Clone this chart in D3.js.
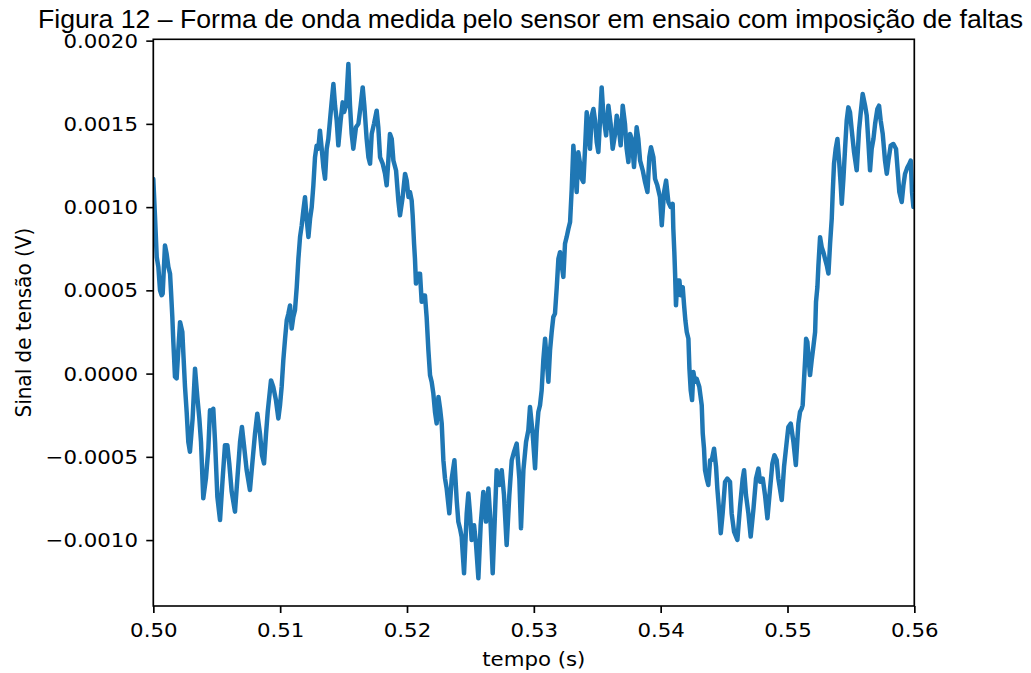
<!DOCTYPE html>
<html><head><meta charset="utf-8">
<script src="https://cdn.jsdelivr.net/npm/d3@7"></script>
<style>html,body{margin:0;padding:0;background:#fff;} svg{display:block;}</style>
</head><body>
<svg id="chart" width="1031" height="673"></svg>
<script>
const titleText = "Figura 12 – Forma de onda medida pelo sensor em ensaio com imposição de faltas";
const xLabel = "tempo (s)";
const yLabel = "Sinal de tensão (V)";
const xTicks = [0.50, 0.51, 0.52, 0.53, 0.54, 0.55, 0.56];
const yTicks = [-0.0010, -0.0005, 0.0000, 0.0005, 0.0010, 0.0015, 0.0020];

// tempo (s)
const time = [
0.50000,0.50013,0.50027,0.50040,0.50053,0.50066,0.50074,0.50092,0.50105,0.50119,0.50132,0.50140,0.50150,0.50158,0.50171,0.50184,0.50197,0.50211,0.50229,0.50237,0.50250,0.50263,0.50276,0.50289,0.50310,0.50329,0.50347,0.50363,0.50376,0.50394,0.50415,0.50434,0.50447,0.50460,0.50473,0.50487,0.50505,0.50526,0.50547,0.50565,0.50584,0.50599,0.50618,0.50644,0.50663,0.50684,0.50699,0.50715,0.50736,0.50762,0.50783,0.50802,0.50820,0.50841,0.50857,0.50873,0.50889,0.50902,0.50928,0.50946,0.50967,0.50986,0.50999,
0.51012,0.51025,0.51039,0.51052,0.51065,0.51078,0.51091,0.51104,0.51117,0.51131,0.51144,0.51157,0.51170,0.51183,0.51196,0.51209,0.51223,0.51236,0.51249,0.51262,0.51275,0.51288,0.51301,0.51314,0.51328,0.51341,0.51354,0.51367,0.51380,0.51393,0.51406,0.51420,0.51433,0.51446,0.51459,0.51477,0.51493,0.51504,0.51520,0.51538,0.51551,0.51564,0.51577,0.51598,0.51617,0.51635,0.51651,0.51664,0.51682,0.51696,0.51709,0.51722,0.51740,0.51761,0.51774,0.51788,0.51809,0.51827,0.51840,0.51853,0.51866,0.51880,0.51893,0.51914,0.51932,0.51945,0.51966,0.51985,0.51998,
0.52012,0.52024,0.52037,0.52045,0.52056,0.52063,0.52071,0.52090,0.52103,0.52116,0.52129,0.52142,0.52155,0.52169,0.52182,0.52195,0.52208,0.52221,0.52234,0.52248,0.52261,0.52274,0.52287,0.52300,0.52313,0.52334,0.52353,0.52374,0.52392,0.52405,0.52418,0.52431,0.52450,0.52471,0.52484,0.52497,0.52510,0.52529,0.52544,0.52563,0.52581,0.52602,0.52623,0.52642,0.52660,0.52676,0.52694,0.52707,0.52728,0.52747,0.52765,0.52786,0.52807,0.52826,0.52844,0.52865,0.52886,0.52899,0.52918,0.52939,0.52957,0.52970,0.52991,
0.53010,0.53023,0.53036,0.53049,0.53062,0.53075,0.53089,0.53102,0.53115,0.53128,0.53141,0.53154,0.53167,0.53181,0.53194,0.53207,0.53220,0.53233,0.53246,0.53259,0.53273,0.53286,0.53299,0.53312,0.53325,0.53338,0.53351,0.53365,0.53378,0.53391,0.53404,0.53417,0.53430,0.53443,0.53457,0.53470,0.53483,0.53496,0.53509,0.53522,0.53535,0.53549,0.53570,0.53588,0.53606,0.53622,0.53641,0.53654,0.53667,0.53685,0.53701,0.53719,0.53732,0.53746,0.53759,0.53772,0.53790,0.53811,0.53824,0.53838,0.53859,0.53877,0.53896,0.53911,0.53924,0.53943,0.53956,0.53974,0.53995,
0.54009,0.54027,0.54043,0.54061,0.54079,0.54095,0.54100,0.54108,0.54114,0.54121,0.54132,0.54148,0.54158,0.54174,0.54185,0.54195,0.54206,0.54219,0.54227,0.54237,0.54248,0.54258,0.54271,0.54284,0.54305,0.54324,0.54332,0.54342,0.54350,0.54363,0.54376,0.54390,0.54403,0.54421,0.54437,0.54447,0.54463,0.54474,0.54489,0.54508,0.54526,0.54547,0.54560,0.54579,0.54605,0.54626,0.54647,0.54658,0.54673,0.54692,0.54710,0.54731,0.54752,0.54771,0.54784,0.54805,0.54823,0.54842,0.54863,0.54881,0.54897,0.54915,0.54928,0.54955,0.54973,0.54994,
0.55007,0.55026,0.55047,0.55066,0.55086,0.55099,0.55112,0.55120,0.55131,0.55139,0.55147,0.55157,0.55165,0.55178,0.55191,0.55204,0.55218,0.55225,0.55236,0.55244,0.55257,0.55270,0.55283,0.55296,0.55310,0.55323,0.55336,0.55349,0.55357,0.55367,0.55380,0.55394,0.55407,0.55420,0.55428,0.55441,0.55454,0.55467,0.55480,0.55493,0.55507,0.55525,0.55546,0.55564,0.55578,0.55593,0.55612,0.55625,0.55638,0.55651,0.55664,0.55678,0.55691,0.55709,0.55722,0.55735,0.55751,0.55769,0.55783,0.55796,0.55814,0.55835,0.55856,0.55867,0.55882,0.55901,0.55914,0.55927,0.55946,0.55961,0.55972,0.55982,0.55993,0.56000
];

// sinal de tensão (V)
const signal = [
0.00117,0.00095,0.00070,0.00064,0.00050,0.00047,0.00048,0.00077,0.00072,0.00064,0.00060,0.00049,0.00034,0.00019,-0.00002,-0.00003,0.00014,0.00031,0.00025,0.00012,-0.00008,-0.00023,-0.00041,-0.00047,-0.00027,0.00003,-0.00014,-0.00027,-0.00041,-0.00075,-0.00063,-0.00045,-0.00022,-0.00025,-0.00021,-0.00041,-0.00074,-0.00088,-0.00063,-0.00043,-0.00043,-0.00054,-0.00071,-0.00083,-0.00063,-0.00041,-0.00032,-0.00043,-0.00058,-0.00070,-0.00052,-0.00036,-0.00024,-0.00036,-0.00049,-0.00054,-0.00036,-0.00023,-0.00004,-0.00008,-0.00016,-0.00027,-0.00019,
-0.00008,0.00008,0.00021,0.00032,0.00036,0.00041,0.00027,0.00034,0.00038,0.00052,0.00069,0.00082,0.00089,0.00098,0.00106,0.00093,0.00082,0.00093,0.00100,0.00113,0.00130,0.00137,0.00135,0.00146,0.00135,0.00124,0.00117,0.00135,0.00141,0.00152,0.00163,0.00174,0.00161,0.00152,0.00137,0.00152,0.00163,0.00157,0.00161,0.00186,0.00161,0.00144,0.00135,0.00148,0.00150,0.00161,0.00172,0.00161,0.00141,0.00130,0.00126,0.00144,0.00150,0.00158,0.00148,0.00130,0.00126,0.00120,0.00113,0.00128,0.00144,0.00141,0.00128,0.00122,0.00104,0.00095,0.00106,0.00120,0.00116,
0.00106,0.00109,0.00104,0.00095,0.00078,0.00069,0.00054,0.00060,0.00060,0.00043,0.00047,0.00047,0.00034,0.00014,-0.00001,-0.00005,-0.00012,-0.00023,-0.00030,-0.00014,-0.00021,-0.00030,-0.00052,-0.00063,-0.00069,-0.00084,-0.00063,-0.00052,-0.00076,-0.00089,-0.00093,-0.00098,-0.00120,-0.00084,-0.00072,-0.00084,-0.00100,-0.00091,-0.00102,-0.00123,-0.00091,-0.00071,-0.00089,-0.00069,-0.00091,-0.00120,-0.00084,-0.00058,-0.00067,-0.00058,-0.00073,-0.00103,-0.00073,-0.00052,-0.00047,-0.00042,-0.00063,-0.00093,-0.00058,-0.00041,-0.00034,-0.00020,-0.00036,
-0.00057,-0.00035,-0.00023,-0.00019,-0.00010,0.00008,0.00021,0.00008,-0.00005,0.00014,0.00025,0.00034,0.00036,0.00052,0.00069,0.00073,0.00065,0.00058,0.00078,0.00082,0.00087,0.00091,0.00111,0.00137,0.00122,0.00109,0.00133,0.00126,0.00117,0.00115,0.00135,0.00157,0.00146,0.00135,0.00155,0.00159,0.00152,0.00139,0.00133,0.00152,0.00172,0.00155,0.00143,0.00161,0.00150,0.00135,0.00144,0.00155,0.00150,0.00137,0.00161,0.00150,0.00135,0.00127,0.00144,0.00141,0.00124,0.00148,0.00141,0.00128,0.00122,0.00115,0.00109,0.00130,0.00136,0.00130,0.00117,0.00113,0.00106,
0.00089,0.00109,0.00116,0.00103,0.00100,0.00102,0.00087,0.00073,0.00060,0.00041,0.00056,0.00056,0.00047,0.00052,0.00041,0.00032,0.00025,0.00021,0.00003,-0.00010,-0.00016,0.00001,-0.00005,-0.00003,-0.00008,-0.00019,-0.00036,-0.00045,-0.00058,-0.00063,-0.00067,-0.00052,-0.00052,-0.00045,-0.00056,-0.00069,-0.00084,-0.00096,-0.00084,-0.00065,-0.00063,-0.00065,-0.00084,-0.00095,-0.00100,-0.00080,-0.00063,-0.00058,-0.00073,-0.00084,-0.00098,-0.00082,-0.00063,-0.00057,-0.00065,-0.00063,-0.00073,-0.00087,-0.00069,-0.00054,-0.00049,-0.00052,-0.00063,-0.00076,-0.00056,-0.00041,
-0.00032,-0.00030,-0.00041,-0.00055,-0.00030,-0.00023,-0.00021,-0.00019,-0.00003,0.00008,0.00021,0.00019,0.00010,-0.00001,0.00008,0.00016,0.00025,0.00043,0.00052,0.00065,0.00082,0.00076,0.00073,0.00069,0.00065,0.00060,0.00078,0.00093,0.00109,0.00126,0.00135,0.00141,0.00128,0.00113,0.00102,0.00117,0.00135,0.00152,0.00160,0.00157,0.00146,0.00133,0.00122,0.00146,0.00157,0.00168,0.00161,0.00155,0.00139,0.00122,0.00135,0.00141,0.00150,0.00159,0.00161,0.00152,0.00144,0.00128,0.00120,0.00128,0.00137,0.00138,0.00135,0.00124,0.00109,0.00103,0.00113,0.00120,0.00124,0.00126,0.00128,0.00109,0.00100,0.00100
];

const SX = 1.065;               // horizontal stretch of the original picture
const plotLeft = 153.3 / SX, plotRight = 914.3 / SX, plotTop = 39.3, plotBottom = 606;
const FONT = "'DejaVu Sans', sans-serif";

const svg = d3.select("#chart");
svg.append("rect").attr("width", 1031).attr("height", 673).attr("fill", "#fff");
const g = svg.append("g").attr("transform", `scale(${SX},1)`);

const x = d3.scaleLinear().domain([0.50, 0.56]).range([plotLeft, plotRight]);
const y = d3.scaleLinear().domain([-0.001396, 0.002008]).range([plotBottom, plotTop]);

g.append("defs").append("clipPath").attr("id", "plotclip")
  .append("rect").attr("x", plotLeft).attr("y", plotTop).attr("width", plotRight - plotLeft).attr("height", plotBottom - plotTop);

const data = d3.zip(time, signal);
const line = d3.line().x(d => x(d[0])).y(d => y(d[1]));

g.append("path").datum(data)
  .attr("clip-path", "url(#plotclip)")
  .attr("fill", "none")
  .attr("stroke", "#1f77b4")
  .attr("stroke-width", 4.2)
  .attr("stroke-linejoin", "round")
  .attr("stroke-linecap", "round")
  .attr("d", line);

// axes
const xAxis = d3.axisBottom(x).tickValues(xTicks).tickFormat(d3.format(".2f")).tickSize(7).tickPadding(10);
const yAxis = d3.axisLeft(y).tickValues(yTicks).tickFormat(d3.format(".4f")).tickSize(6.6).tickPadding(7.8);

const gx = g.append("g").attr("transform", `translate(0,${plotBottom})`).call(xAxis);
const gy = g.append("g").attr("transform", `translate(${plotLeft},0)`).call(yAxis);
[gx, gy].forEach(a => {
  a.select(".domain").remove();
  a.selectAll(".tick line").attr("stroke", "#000").attr("stroke-width", 1.6);
  a.selectAll(".tick text").attr("fill", "#000").style("font-family", FONT).style("font-size", "20px");
});

// frame (all four spines)
g.append("rect").attr("x", plotLeft).attr("y", plotTop).attr("width", plotRight - plotLeft).attr("height", plotBottom - plotTop)
  .attr("fill", "none").attr("stroke", "#000").attr("stroke-width", 1.6);

// labels
g.append("text").attr("x", (plotLeft + plotRight) / 2).attr("y", 666).attr("text-anchor", "middle")
  .style("font-family", FONT).style("font-size", "20px").attr("fill", "#000").text(xLabel);
g.append("text").attr("transform", `translate(${29.1},${(plotTop + plotBottom) / 2}) rotate(-90)`).attr("text-anchor", "middle")
  .style("font-family", FONT).style("font-size", "20px").attr("fill", "#000").text(yLabel);

// title
g.append("text").attr("x", 38 / SX).attr("y", 27.7)
  .style("font-family", "'Liberation Sans', Arial, sans-serif").style("font-size", "25px").attr("fill", "#000")
  .text(titleText);
</script>
</body></html>
